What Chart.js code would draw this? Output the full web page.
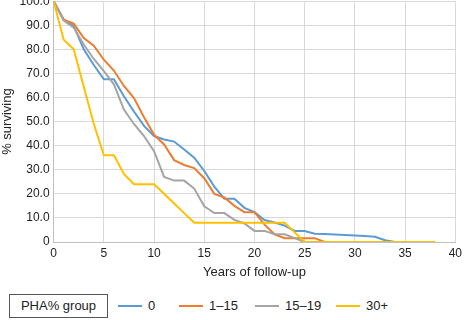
<!DOCTYPE html>
<html>
<head>
<meta charset="utf-8">
<script src="https://cdn.jsdelivr.net/npm/chart.js@4/dist/chart.umd.min.js"></script>
<style>
  html, body { margin: 0; padding: 0; background: #fff; }
  body { width: 466px; height: 320px; position: relative; overflow: hidden; font-family: "Liberation Sans", Arial, sans-serif; color: #222; }
  #wrap { position: absolute; left: 0; top: -10px; width: 466px; height: 290px; }
  #groupBox { position: absolute; left: 9px; top: 294px; width: 97px; height: 22px; border: 1px solid #555; font-size: 13px; line-height: 22px; text-align: center; }
  .item { position: absolute; top: 298px; height: 16px; font-size: 13px; line-height: 16px; }
  .item span.sw { display: inline-block; width: 24px; height: 2px; vertical-align: middle; margin-right: 6px; position: relative; top: -1px; }
</style>
</head>
<body>
<div id="wrap"><canvas id="c" width="466" height="290"></canvas></div>
<div id="groupBox">PHA% group</div>
<div id="legend"></div>
<script>
const years = [0,1,2,3,4,5,6,7,8,9,10,11,12,13,14,15,16,17,18,19,20,21,22,23,24,25,26,27,28,29,30,31,32,33,34,35,36,37,38];
const seriesNames = ['0', '1\u201315', '15\u201319', '30+'];
const group0 = [100,92.4,89.7,80,73.5,67.6,67.6,60.5,54.2,48.2,44,42.6,41.7,38.4,35,29.5,23,18,18,14.2,12.4,9.1,8.1,6.8,4.6,4.6,3.4,3.3,3.1,2.9,2.7,2.5,2.2,0.7,0];
const group1to15 = [100,92.3,90.7,84.7,81.5,75.7,71.2,64.8,59.8,51.8,44.5,40.5,34,32,30.7,26.5,20,18.5,15,12.4,12.4,7.2,3.2,1.6,1.6,1.6,1.6,0];
const group15to19 = [100,92,89,82,76,71,65.5,55,49,44,37.7,27,25.5,25.5,22.2,14.8,12,12,9.2,7.7,4.6,4.6,3.2,3.2,1.6,0];
const group30plus = [100,84,80,64.5,49,36,36,28.3,24,24,24,20,16,12,8,8,8,8,8,8,8,8,8,8,4,0,0,0,0,0,0,0,0,0,0,0,0,0,0];
const yTicks = [0,10,20,30,40,50,60,70,80,90,100];
const xTicks = [0,5,10,15,20,25,30,35,40];
const colors = ['#5B9BD5', '#ED7D31', '#A5A5A5', '#FFC000'];

const allSeries = [group0, group1to15, group15to19, group30plus];
const datasets = allSeries.map((vals, i) => ({
  label: seriesNames[i],
  data: vals.map((v, k) => ({ x: years[k], y: v })),
  borderColor: colors[i],
  backgroundColor: colors[i],
  borderWidth: 2,
  pointRadius: 0,
  tension: 0,
  fill: false,
  order: 3 - i
}));

const FONT = { family: '"Liberation Sans", Arial, sans-serif', size: 12 };

new Chart(document.getElementById('c'), {
  type: 'line',
  data: { datasets },
  options: {
    responsive: false,
    animation: false,
    layout: { padding: { left: 0, right: 7, top: 4, bottom: 0 } },
    plugins: { legend: { display: false }, tooltip: { enabled: false } },
    scales: {
      x: {
        type: 'linear', min: 0, max: 40,
        afterBuildTicks: (s) => { s.ticks = xTicks.map(v => ({ value: v })); },
        ticks: { color: '#222', font: FONT, padding: 4, maxRotation: 0 },
        grid: { color: '#d9d9d9', lineWidth: 1, drawTicks: false },
        border: { color: '#bfbfbf', width: 1 },
        title: { display: true, text: 'Years of follow-up', color: '#222', font: { family: FONT.family, size: 13 }, padding: { top: 0, bottom: 0 } }
      },
      y: {
        type: 'linear', min: 0, max: 100,
        afterBuildTicks: (s) => { s.ticks = yTicks.map(v => ({ value: v })); },
        ticks: { color: '#222', font: FONT, padding: 4, callback: (v) => v === 0 ? '0' : Number(v).toFixed(1) },
        grid: { color: '#d9d9d9', lineWidth: 1, drawTicks: false },
        border: { color: '#bfbfbf', width: 1 },
        title: { display: true, text: '% surviving', color: '#222', font: { family: FONT.family, size: 13 }, padding: { top: 0, bottom: 0 } }
      }
    }
  }
});

const legendLefts = [118, 179, 255, 336];
const leg = document.getElementById('legend');
seriesNames.forEach((name, i) => {
  const d = document.createElement('div');
  d.className = 'item';
  d.style.left = legendLefts[i] + 'px';
  d.innerHTML = '<span class="sw" style="background:' + colors[i] + '"></span>' + name;
  leg.appendChild(d);
});
</script>
</body>
</html>
